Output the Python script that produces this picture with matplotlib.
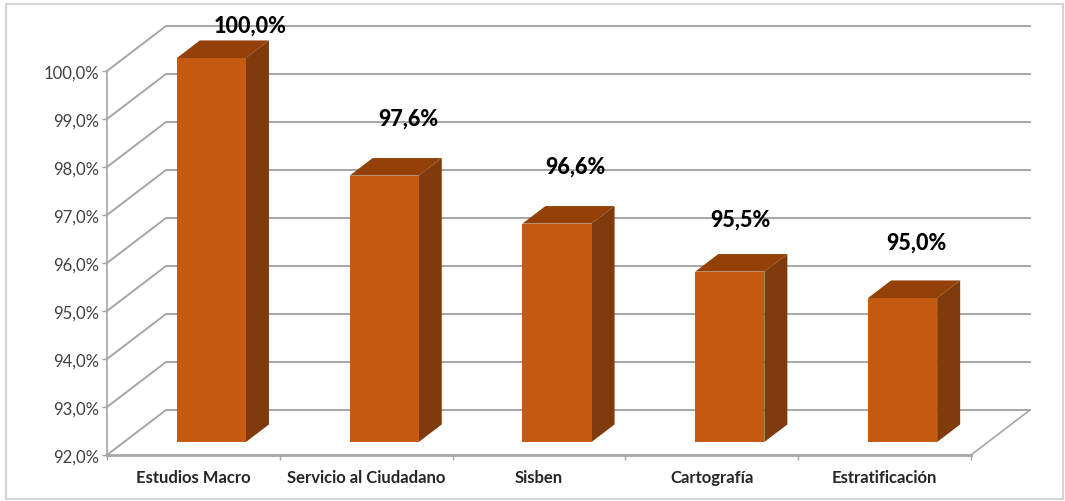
import matplotlib
matplotlib.use("Agg")
import matplotlib.pyplot as plt
from matplotlib.patches import Polygon, Rectangle

categories = ["Estudios Macro", "Servicio al Ciudadano", "Sisben", "Cartografía", "Estratificación"]
bar_heights = [100.0, 97.55, 96.55, 95.55, 95.0]
bar_labels = ["100,0%", "97,6%", "96,6%", "95,5%", "95,0%"]
y_ticks = [92, 93, 94, 95, 96, 97, 98, 99, 100]
y_tick_labels = ["92,0%", "93,0%", "94,0%", "95,0%", "96,0%", "97,0%", "98,0%", "99,0%", "100,0%"]
label_heights = [100.96, 99.02, 98.02, 96.91, 96.43]
label_shift = [0.329, 0.241, 0.212, 0.167, 0.186]

W, H = 1065, 502
fig = plt.figure(figsize=(W / 100, H / 100), dpi=100, facecolor="white")
plt.rcParams["font.family"] = ["Lato", "DejaVu Sans"]

fig.add_artist(Rectangle((6 / W, 1 - 500 / H), 1057 / W, 495 / H, transform=fig.transFigure,
                         facecolor="white", edgecolor="#d4d4d4", linewidth=1.5, zorder=-1))

ax = fig.add_axes([107 / W, 1 - 456 / H, 864 / W, 384 / H])
ax.set_xlim(0, len(categories))
ax.set_ylim(92, 100)
ax.patch.set_visible(False)

DX = 59 / (864 / 5)
DY = 45 / 48
GRID = "#a6a6a6"

for v in y_ticks:
    ax.plot([0, DX, 5 + DX], [v, v + DY, v + DY], color=GRID, lw=1.4, clip_on=False, zorder=1,
            solid_joinstyle="miter")
ax.plot([5, 5 + DX], [92, 92 + DY], color=GRID, lw=1.2, clip_on=False, zorder=1)

bar_w = 0.40
d0, d1 = 0.31, 0.70
FRONT, TOP, SIDE = "#C55A11", "#934109", "#7F3B0B"
lift = 13 / 48
for i, v in enumerate(bar_heights):
    x0 = i + 0.5 - bar_w / 2 + 18 / 172.8
    x1 = x0 + bar_w
    base = 92 + lift
    t = v + lift
    sx, sy = (d1 - d0) * DX, (d1 - d0) * DY
    ax.add_patch(Polygon([(x1, base), (x1 + sx, base + sy), (x1 + sx, t + sy), (x1, t)],
                         closed=True, facecolor=SIDE, edgecolor="none", clip_on=False, zorder=3))
    ax.add_patch(Polygon([(x0, t), (x1, t), (x1 + sx, t + sy), (x0 + sx, t + sy)],
                         closed=True, facecolor=TOP, edgecolor="none", clip_on=False, zorder=3))
    ax.add_patch(Rectangle((x0, base), bar_w, t - base, facecolor=FRONT, edgecolor="none",
                           clip_on=False, zorder=4))
    ax.text(i + 0.5 + label_shift[i], label_heights[i], bar_labels[i], ha="center", va="center",
            fontsize=15.5, fontweight="black", color="black", clip_on=False, zorder=5)

for s in ("top", "right"):
    ax.spines[s].set_visible(False)
ax.spines["left"].set_color(GRID)
ax.spines["left"].set_linewidth(1.2)
ax.spines["bottom"].set_color(GRID)
ax.spines["bottom"].set_linewidth(2)
ax.set_yticks(y_ticks, y_tick_labels)
ax.set_xticks(range(len(categories) + 1))
ax.set_xticks([i + 0.5 for i in range(len(categories))], minor=True)
ax.set_xticklabels([""] * (len(categories) + 1))
ax.set_xticklabels(categories, minor=True)
ax.tick_params(axis="y", length=3.5, width=1, color=GRID, labelsize=12, labelcolor="#404040", pad=2)
ax.tick_params(axis="x", which="major", length=3.5, width=1, color=GRID)
ax.tick_params(axis="x", which="minor", length=0, labelsize=12, labelcolor="#262626", pad=10)
for t in ax.get_xticklabels(minor=True):
    t.set_fontweight("bold")

fig.savefig("out.png", dpi=100)
